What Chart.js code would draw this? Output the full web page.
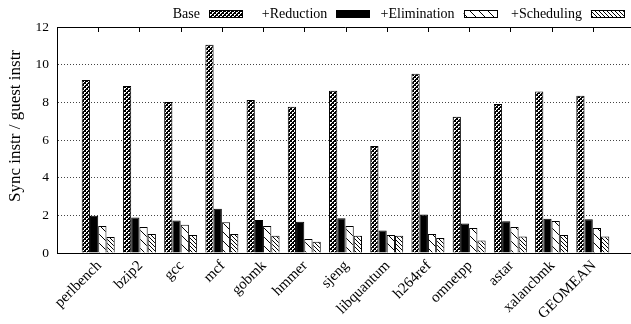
<!DOCTYPE html>
<html>
<head>
<meta charset="utf-8">
<script src="https://cdn.jsdelivr.net/npm/chart.js@4.4.1/dist/chart.umd.min.js"></script>
<style>
    html, body { margin: 0; padding: 0; background: #fff; overflow: hidden; }
    #wrap { width: 640px; height: 324px; }
</style>
</head>
<body>
<div id="wrap"><canvas id="chart"></canvas></div>
<script>
const categories = ['perlbench', 'bzip2', 'gcc', 'mcf', 'gobmk', 'hmmer', 'sjeng',
    'libquantum', 'h264ref', 'omnetpp', 'astar', 'xalancbmk', 'GEOMEAN'];
const seriesNames = ['Base', '+Reduction', '+Elimination', '+Scheduling'];
const baseVals = [9.19, 8.87, 8.02, 11.06, 8.12, 7.77, 8.62, 5.68, 9.52, 7.24, 7.91, 8.57, 8.35];
const reductionVals = [1.98, 1.89, 1.72, 2.35, 1.75, 1.66, 1.84, 1.20, 2.04, 1.56, 1.68, 1.82, 1.79];
const eliminationVals = [1.43, 1.38, 1.50, 1.63, 1.43, 0.74, 1.43, 0.96, 1.01, 1.33, 1.38, 1.70, 1.33];
const schedulingVals = [0.85, 1.01, 0.96, 1.01, 0.92, 0.60, 0.92, 0.92, 0.80, 0.67, 0.88, 0.96, 0.88];
const yTicks = [0, 2, 4, 6, 8, 10, 12];
const yTitle = 'Sync instr / guest instr';

const FONT = "'Liberation Serif', 'Times New Roman', serif";

// fill patterns (gnuplot style)
function makeTile(size, draw) {
    const c = document.createElement('canvas');
    c.width = size; c.height = size;
    const g = c.getContext('2d');
    g.fillStyle = '#fff';
    g.fillRect(0, 0, size, size);
    draw(g, size);
    return document.createElement('canvas').getContext('2d').createPattern(c, 'repeat');
}
function diagTile(size) {
    return makeTile(size, (g, s) => {
        g.strokeStyle = '#000';
        g.lineWidth = 1;
        g.beginPath();
        for (const o of [-s, 0, s]) {
            g.moveTo(o, 0);
            g.lineTo(o + s, s);
        }
        g.stroke();
    });
}
const checkPattern = makeTile(4, (g) => {
    g.fillStyle = '#000';
    g.fillRect(0, 0, 4, 4);
    g.fillStyle = '#fff';
    g.fillRect(0, 0, 2, 1);
    g.fillRect(0, 1, 1, 1);
    g.fillRect(2, 2, 2, 1);
    g.fillRect(2, 3, 1, 1);
});
const fills = [checkPattern, '#000', diagTile(9), diagTile(4)];

const toPoints = (arr) => arr.map((v, i) => ({ x: i, y: v }));
const allSeries = [baseVals, reductionVals, eliminationVals, schedulingVals];

const frameAndLegend = {
    id: 'frameAndLegend',
    afterDatasetsDraw(chart) {
        const { ctx, chartArea, scales } = chart;
        ctx.save();
        ctx.strokeStyle = '#000';
        ctx.lineWidth = 1;
        // top border
        ctx.beginPath();
        ctx.moveTo(chartArea.left, Math.round(chartArea.top) + 0.5);
        ctx.lineTo(chartArea.right, Math.round(chartArea.top) + 0.5);
        ctx.stroke();
        // mirrored ticks at top
        ctx.beginPath();
        categories.forEach((_, i) => {
            const x = Math.round(scales.x.getPixelForValue(i)) + 0.5;
            ctx.moveTo(x, chartArea.top);
            ctx.lineTo(x, chartArea.top + 5);
        });
        ctx.stroke();

        // y axis title
        ctx.save();
        ctx.translate(16, 126);
        ctx.rotate(-Math.PI / 2);
        ctx.font = '17px ' + FONT;
        ctx.fillStyle = '#000';
        ctx.textAlign = 'center';
        ctx.textBaseline = 'middle';
        ctx.fillText(yTitle, 0, 0);
        ctx.restore();

        // key: label then sample
        ctx.font = '14px ' + FONT;
        ctx.textAlign = 'right';
        ctx.textBaseline = 'middle';
        seriesNames.forEach((name, i) => {
            const bx = 209 + i * 127.3;
            ctx.fillStyle = '#000';
            ctx.fillText(name, bx - 9, 14);
            ctx.fillStyle = fills[i];
            ctx.fillRect(bx, 10, 33, 7);
            ctx.strokeRect(Math.round(bx) + 0.5, 10.5, 33, 7);
        });
        ctx.restore();
    }
};

new Chart(document.getElementById('chart'), {
    type: 'bar',
    data: {
        datasets: seriesNames.map((name, i) => ({
            label: name,
            data: toPoints(allSeries[i]),
            backgroundColor: fills[i],
            borderColor: '#000',
            borderWidth: 1,
            categoryPercentage: 0.8,
            barPercentage: 1.0
        }))
    },
    options: {
        responsive: true,
        maintainAspectRatio: false,
        animation: false,
        layout: { padding: { left: 0, right: 6, top: 27, bottom: 0 } },
        plugins: {
            legend: { display: false },
            tooltip: { enabled: false }
        },
        scales: {
            x: {
                type: 'linear',
                offset: false,
                min: -1,
                max: 13,
                afterFit: (s) => { s.height = 71; },
                afterBuildTicks: (s) => {
                    s.ticks = categories.map((_, i) => ({ value: i }));
                },
                grid: { display: false },
                border: { color: '#000', width: 1 },
                ticks: {
                    autoSkip: false,
                    maxRotation: 45,
                    minRotation: 45,
                    padding: -4,
                    labelOffset: 1,
                    color: '#000',
                    font: { family: FONT, size: 15 },
                    callback: (v) => categories[v] ?? ''
                }
            },
            y: {
                min: 0,
                max: 12,
                afterFit: (s) => { s.width = 57; },
                afterBuildTicks: (s) => {
                    s.ticks = yTicks.map((v) => ({ value: v }));
                },
                grid: {
                    drawTicks: false,
                    color: (c) => (c.tick && (c.tick.value === 0 || c.tick.value === 12)) ? 'rgba(0,0,0,0)' : '#444'
                },
                border: { color: '#000', width: 1, dash: [1, 2] },
                ticks: {
                    padding: 8,
                    color: '#000',
                    font: { family: FONT, size: 13.5 }
                }
            }
        }
    },
    plugins: [frameAndLegend]
});
</script>
</body>
</html>
